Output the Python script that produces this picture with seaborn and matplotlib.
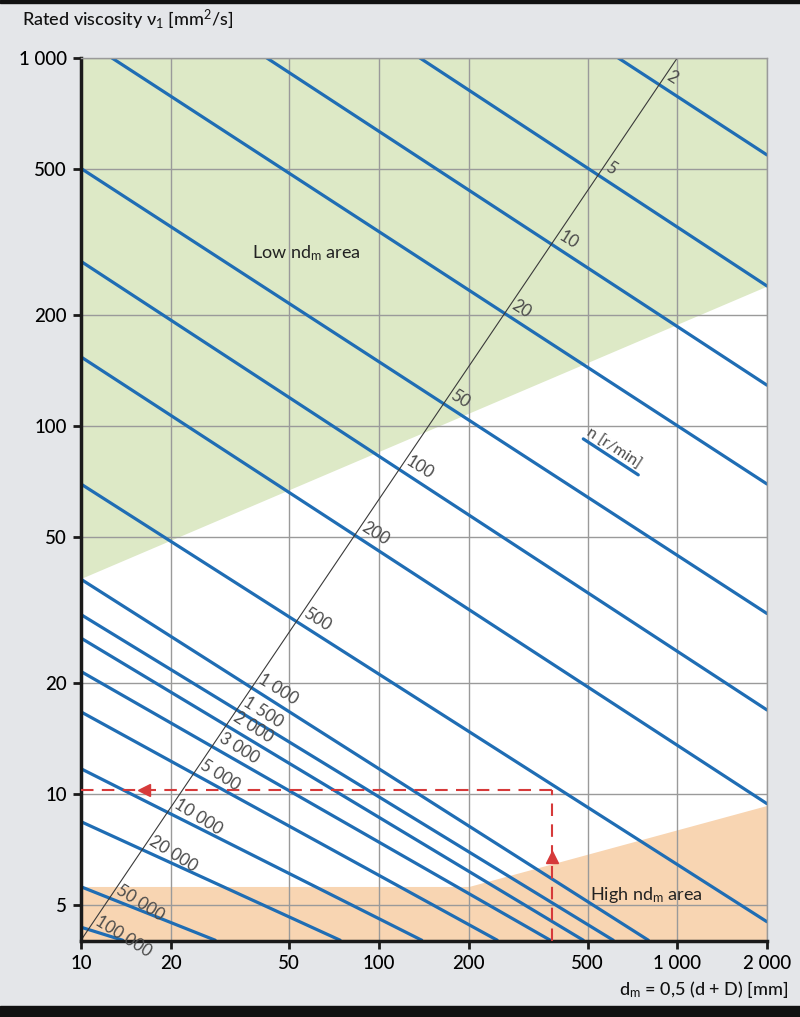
import matplotlib
matplotlib.use("Agg")
import matplotlib.pyplot as plt
import seaborn as sns
import pandas as pd
import numpy as np
from matplotlib.patches import Rectangle

speeds = [2, 5, 10, 20, 50, 100, 200, 500, 1000, 1500, 2000, 3000, 5000,
          10000, 20000, 50000, 100000]
speed_labels = ["2", "5", "10", "20", "50", "100", "200", "500", "1 000",
                "1 500", "2 000", "3 000", "5 000", "10 000", "20 000",
                "50 000", "100 000"]
dm_start = [634, 137, 42, 12.7, 10, 10, 10, 10, 10, 10, 10, 10, 10, 10, 10, 10, 10]
nu_start = [1000, 1000, 1000, 1000, 501, 280, 154, 69.5, 38.3, 30.7, 26.5,
            21.5, 16.7, 11.7, 8.4, 5.59, 4.34]
dm_end = [2000, 2000, 2000, 2000, 2000, 2000, 2000, 2000, 800, 610, 484,
          375, 249, 139, 74, 28.2, 13.8]
nu_end = [545, 240, 129, 69.5, 30.9, 16.9, 9.4, 4.49, 4, 4, 4, 4, 4, 4, 4, 4, 4]

# n scale (diagonal) and shaded areas
scale_dm = [10, 1000]
scale_nu = [4, 1000]
low_dm = [10, 2000]
low_nu = [38.5, 240]
high_dm = [10, 200, 2000]
high_nu = [5.6, 5.6, 9.3]

# example reading (red dashed)
ex_dm = 380
ex_nu = 10.25

x_ticks = [10, 20, 50, 100, 200, 500, 1000, 2000]
x_labels = ["10", "20", "50", "100", "200", "500", "1 000", "2 000"]
y_ticks = [5, 10, 20, 50, 100, 200, 500, 1000]
y_labels = ["5", "10", "20", "50", "100", "200", "500", "1 000"]

sns.set_theme(style="white")
plt.rcParams['font.family'] = ['Lato', 'DejaVu Sans']
plt.rcParams['mathtext.fontset'] = 'custom'
plt.rcParams['mathtext.rm'] = 'Lato'
plt.rcParams['mathtext.it'] = 'Lato'

blue = "#1f6db4"
red = "#d63a3a"
grey_txt = "#4a4a4a"

fig = plt.figure(figsize=(8, 10.17), dpi=100, facecolor="#e4e6e9")
ax = fig.add_axes([0.10125, 0.0747, 0.8575, 0.8683])
ax.set_facecolor("white")
ax.set_xscale("log")
ax.set_yscale("log")
ax.set_xlim(10, 2000)
ax.set_ylim(3.98, 1000)

# areas
ax.fill_between(low_dm, low_nu, 1000, color="#dde9c6", lw=0, zorder=0.2)
ax.fill_between(high_dm, 3.98, high_nu, color="#f8d5b2", lw=0, zorder=0.2)

# speed lines through seaborn
rows = []
for n, x0, y0, x1, y1 in zip(speeds, dm_start, nu_start, dm_end, nu_end):
    rows.append({"n": n, "dm": x0, "nu": y0})
    rows.append({"n": n, "dm": x1, "nu": y1})
df = pd.DataFrame(rows)
sns.lineplot(data=df, x="dm", y="nu", units="n", estimator=None, sort=False,
             color=blue, lw=2.3, ax=ax, zorder=2, legend=False)

# n scale line
ax.plot(scale_dm, scale_nu, color="#3a3a3a", lw=0.8, zorder=2.5)

# labels at the crossings with the n scale
k = (np.log10(scale_nu[1]) - np.log10(scale_nu[0])) / (np.log10(scale_dm[1]) - np.log10(scale_dm[0]))
X0, Y0 = np.log10(scale_dm[0]), np.log10(scale_nu[0])
for lab, x0, y0, x1, y1 in zip(speed_labels, dm_start, nu_start, dm_end, nu_end):
    X1, Y1 = np.log10(x0), np.log10(y0)
    m = (np.log10(y1) - Y1) / (np.log10(x1) - X1)
    X = (Y0 - k * X0 - Y1 + m * X1) / (m - k)
    Y = Y1 + m * (X - X1)
    ax.annotate(lab, xy=(10 ** X, 10 ** Y), xytext=(3, 2), textcoords="offset points",
                rotation=-32, rotation_mode="anchor", ha="left", va="bottom",
                fontsize=12.2, color=grey_txt, zorder=3)

# n [r/min] key
ax.plot([484, 740], [92.2, 73.6], color=blue, lw=2.3, zorder=2)
ax.annotate("n [r/min]", xy=(484, 92.2), xytext=(0, 1), textcoords="offset points",
            rotation=-33, rotation_mode="anchor", ha="left", va="bottom",
            fontsize=11.5, color=grey_txt, zorder=3)

# example reading
ax.plot([10, ex_dm], [ex_nu, ex_nu], color=red, lw=1.5, ls=(0, (6, 4)), zorder=2.6)
ax.plot([ex_dm, ex_dm], [3.98, ex_nu], color=red, lw=1.5, ls=(0, (6, 4)), zorder=2.6)
ax.plot([16.3], [ex_nu], marker="<", color=red, ms=9, zorder=2.7)
ax.plot([ex_dm], [6.75], marker="^", color=red, ms=9, zorder=2.7)

ax.text(57, 294, "Low nd$_\\mathrm{m}$ area", fontsize=13, color="#222222",
        ha="center", va="center", zorder=3)
ax.text(790, 5.3, "High nd$_\\mathrm{m}$ area", fontsize=13, color="#222222",
        ha="center", va="center", zorder=3)

# axes styling
ax.set_xticks(x_ticks)
ax.set_xticklabels(x_labels)
ax.set_yticks(y_ticks)
ax.set_yticklabels(y_labels)
ax.minorticks_off()
ax.grid(True, which="major", color="#9a9a9a", lw=1)
ax.set_axisbelow(True)
ax.tick_params(axis="both", which="major", direction="out", length=6, width=2,
               color="#1a1a1a", labelsize=13.5, labelcolor="#000000", pad=4,
               left=True, bottom=True)
for lab in ax.get_xticklabels() + ax.get_yticklabels():
    lab.set_fontweight("medium")
for side in ["left", "bottom"]:
    ax.spines[side].set_color("#1a1a1a")
    ax.spines[side].set_linewidth(2.5)
for side in ["top", "right"]:
    ax.spines[side].set_color("#9a9a9a")
    ax.spines[side].set_linewidth(1)
ax.set_xlabel("")
ax.set_ylabel("")

fig.text(22 / 800, 1 - 20 / 1017, "Rated viscosity ν$_1$ [mm$^2$/s]", fontsize=13,
         color="#111111", ha="left", va="center", fontweight="medium")
fig.text(788 / 800, 1 - 990 / 1017, "d$_\\mathrm{m}$ = 0,5 (d + D) [mm]", fontsize=13,
         color="#111111", ha="right", va="center", fontweight="medium")

# dark bands top and bottom
fig.patches.append(Rectangle((0, 1 - 3 / 1017), 1, 3 / 1017, transform=fig.transFigure,
                             color="#111111", zorder=0))
fig.patches.append(Rectangle((0, 0), 1, 11 / 1017, transform=fig.transFigure,
                             color="#111111", zorder=0))

fig.savefig("out.png", dpi=100, facecolor=fig.get_facecolor())
